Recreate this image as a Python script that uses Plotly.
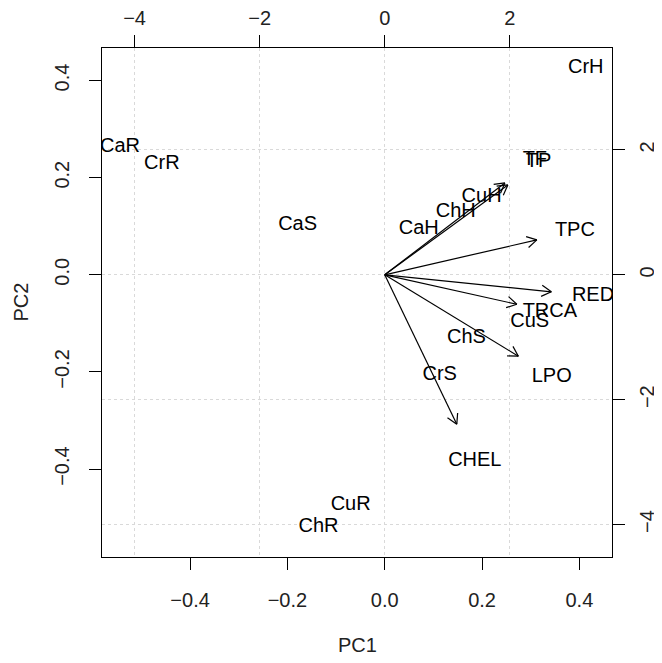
import math
import plotly.graph_objects as go

# ---- data ----
obs_labels = ["CrH", "CaR", "CrR", "CaS", "CaH", "ChH", "CuH", "CuS", "ChS", "CrS", "CuR", "ChR"]
obs_pc1 = [0.413, -0.544, -0.458, -0.179, 0.070, 0.146, 0.199, 0.298, 0.168, 0.113, -0.070, -0.136]
obs_pc2 = [0.426, 0.263, 0.228, 0.103, 0.095, 0.130, 0.160, -0.097, -0.130, -0.206, -0.473, -0.520]

var_labels = ["TF", "TP", "TPC", "RED", "TRCA", "LPO", "CHEL"]
var_pc1 = [2.40, 2.46, 3.04, 3.33, 2.64, 2.67, 1.44]
var_pc2 = [1.84, 1.80, 0.70, -0.34, -0.59, -1.63, -2.99]

main_ticks = [-0.4, -0.2, 0.0, 0.2, 0.4]
sec_ticks = [-4, -2, 0, 2]

lim = [-0.581, 0.467]
ratio = 7.78
lim2 = [lim[0] * ratio, lim[1] * ratio]

FONT = "Liberation Sans, Arial, Helvetica, sans-serif"
FS = 20

fig = go.Figure()

# observation labels
fig.add_trace(go.Scatter(
    x=obs_pc1, y=obs_pc2, mode="text", text=obs_labels,
    textposition="middle center", cliponaxis=True,
    textfont=dict(family=FONT, size=FS, color="black"),
    xaxis="x", yaxis="y", showlegend=False, hoverinfo="skip"))

# arrows (shaft + open head), drawn at 0.8 of the variable positions
head_len = 0.18
head_ang = math.radians(30)
ax_, ay_ = [], []
for vx, vy in zip(var_pc1, var_pc2):
    tx, ty = 0.8 * vx, 0.8 * vy
    ax_ += [0, tx, None]
    ay_ += [0, ty, None]
    th = math.atan2(ty, tx)
    for s in (1, -1):
        hx = tx - head_len * math.cos(th + s * head_ang)
        hy = ty - head_len * math.sin(th + s * head_ang)
        ax_ += [tx, hx, None]
        ay_ += [ty, hy, None]
fig.add_trace(go.Scatter(
    x=ax_, y=ay_, mode="lines", line=dict(color="black", width=1.2),
    xaxis="x2", yaxis="y2", showlegend=False, hoverinfo="skip"))

# variable labels
fig.add_trace(go.Scatter(
    x=var_pc1, y=var_pc2, mode="text", text=var_labels,
    textposition="middle center", cliponaxis=True,
    textfont=dict(family=FONT, size=FS, color="black"),
    xaxis="x2", yaxis="y2", showlegend=False, hoverinfo="skip"))

common = dict(ticks="outside", ticklen=12, tickcolor="black", tickwidth=1,
              showline=True, linecolor="black", linewidth=1.2, automargin=False,
              zeroline=False, tickfont=dict(family=FONT, size=FS, color="#222"))

fig.update_layout(
    width=654, height=655,
    margin=dict(l=94, r=50, t=40, b=106),
    paper_bgcolor="white", plot_bgcolor="white",
    xaxis=dict(range=lim, tickvals=main_ticks, tickformat=".1f", showgrid=False,
               ticklabelstandoff=13, **common),
    yaxis=dict(range=lim, tickvals=main_ticks, tickformat=".1f", showgrid=False,
               tickangle=-90, ticklabelstandoff=12, **common),
    xaxis2=dict(range=lim2, tickvals=sec_ticks, overlaying="x", side="top", anchor="y",
                showgrid=True, gridcolor="#d9d9d9", griddash="dot", gridwidth=1,
                ticklabelstandoff=2, **common),
    yaxis2=dict(range=lim2, tickvals=sec_ticks, overlaying="y", side="right", anchor="x",
                showgrid=True, gridcolor="#d9d9d9", griddash="dot", gridwidth=1,
                tickangle=-90, ticklabelstandoff=5, **common),
    annotations=[
        dict(text="PC1", xref="paper", yref="paper", x=0.5, y=0, yshift=-88,
             showarrow=False, xanchor="center", yanchor="middle",
             font=dict(family=FONT, size=FS, color="#222")),
        dict(text="PC2", xref="paper", yref="paper", x=0, y=0.5, xshift=-82,
             showarrow=False, xanchor="center", yanchor="middle", textangle=-90,
             font=dict(family=FONT, size=FS, color="#222")),
    ],
)

fig.write_html("out.html")
